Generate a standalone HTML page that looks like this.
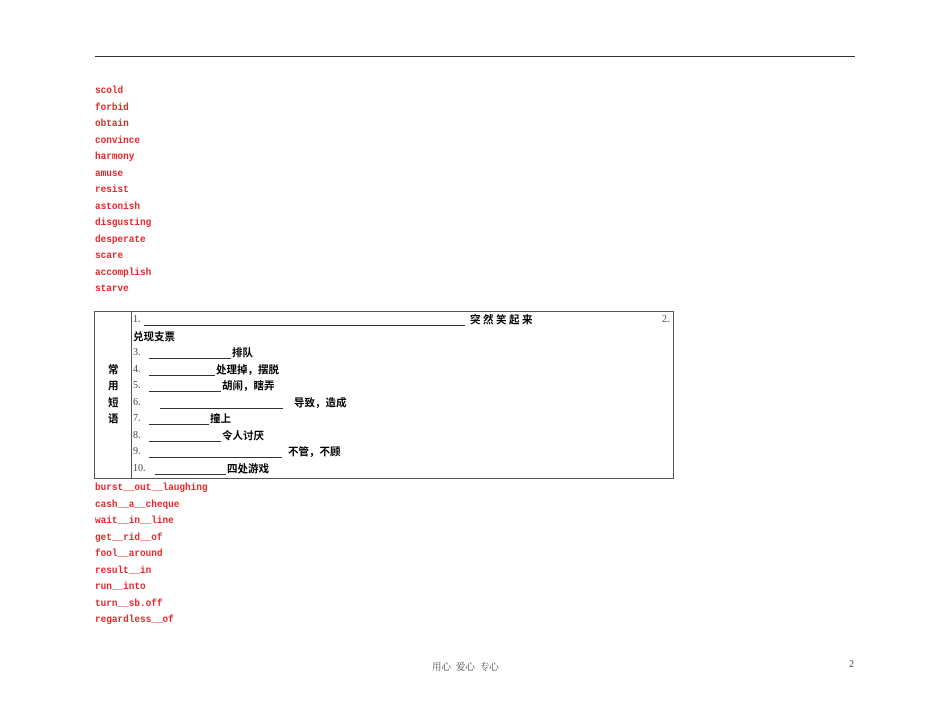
<!DOCTYPE html>
<html><head><meta charset="utf-8"><style>
body{margin:0;width:950px;height:722px;background:#fff;position:relative;overflow:hidden}
.r{position:absolute;left:95px;font-family:"Liberation Mono","Noto Sans CJK SC",monospace;font-size:9.4px;font-weight:bold;color:#e8262a;line-height:12px;white-space:pre;transform:scaleY(1.12);transform-origin:0 0}
.t{position:absolute;font-family:"Liberation Sans","Noto Sans CJK SC",sans-serif;font-size:10.5px;font-weight:bold;color:#000;line-height:12px;white-space:pre}
.n{position:absolute;font-family:"Liberation Serif",serif;font-size:10px;color:#444;line-height:12px}
.u{position:absolute;height:1px;background:#333}
</style></head><body>
<div style="position:absolute;left:95px;top:56px;width:760px;height:1px;background:#333"></div>

<div class="r" style="top:84px">scold</div>
<div class="r" style="top:101px">forbid</div>
<div class="r" style="top:117px">obtain</div>
<div class="r" style="top:134px">convince</div>
<div class="r" style="top:150px">harmony</div>
<div class="r" style="top:167px">amuse</div>
<div class="r" style="top:183px">resist</div>
<div class="r" style="top:200px">astonish</div>
<div class="r" style="top:216px">disgusting</div>
<div class="r" style="top:233px">desperate</div>
<div class="r" style="top:249px">scare</div>
<div class="r" style="top:266px">accomplish</div>
<div class="r" style="top:282px">starve</div>

<div style="position:absolute;left:94px;top:311px;width:578px;height:166px;border:1px solid #555"></div>
<div style="position:absolute;left:131px;top:311px;width:1px;height:167px;background:#555"></div>

<div class="t" style="left:108px;top:364px">常</div>
<div class="t" style="left:108px;top:380px">用</div>
<div class="t" style="left:108px;top:397px">短</div>
<div class="t" style="left:108px;top:413px">语</div>

<div class="n" style="left:133px;top:314px">1.</div>
<div class="u" style="left:144px;top:325px;width:321px"></div>
<div class="t" style="left:470px;top:314px;letter-spacing:2.5px">突然笑起来</div>
<div class="n" style="left:662px;top:314px">2.</div>
<div class="t" style="left:133px;top:331px">兑现支票</div>

<div class="n" style="left:133px;top:347px">3.</div>
<div class="u" style="left:149px;top:358px;width:82px"></div>
<div class="t" style="left:232px;top:347px">排队</div>

<div class="n" style="left:133px;top:364px">4.</div>
<div class="u" style="left:149px;top:375px;width:66px"></div>
<div class="t" style="left:216px;top:364px">处理掉，摆脱</div>

<div class="n" style="left:133px;top:380px">5.</div>
<div class="u" style="left:149px;top:391px;width:72px"></div>
<div class="t" style="left:222px;top:380px">胡闹，瞎弄</div>

<div class="n" style="left:133px;top:397px">6.</div>
<div class="u" style="left:160px;top:408px;width:123px"></div>
<div class="t" style="left:294px;top:397px">导致，造成</div>

<div class="n" style="left:133px;top:413px">7.</div>
<div class="u" style="left:149px;top:424px;width:60px"></div>
<div class="t" style="left:210px;top:413px">撞上</div>

<div class="n" style="left:133px;top:430px">8.</div>
<div class="u" style="left:149px;top:441px;width:72px"></div>
<div class="t" style="left:222px;top:430px">令人讨厌</div>

<div class="n" style="left:133px;top:446px">9.</div>
<div class="u" style="left:149px;top:457px;width:133px"></div>
<div class="t" style="left:288px;top:446px">不管，不顾</div>

<div class="n" style="left:133px;top:463px">10.</div>
<div class="u" style="left:155px;top:474px;width:71px"></div>
<div class="t" style="left:227px;top:463px">四处游戏</div>

<div class="r" style="top:481px">burst__out__laughing</div>
<div class="r" style="top:498px">cash__a__cheque</div>
<div class="r" style="top:514px">wait__in__line</div>
<div class="r" style="top:531px">get__rid__of</div>
<div class="r" style="top:547px">fool__around</div>
<div class="r" style="top:564px">result__in</div>
<div class="r" style="top:580px">run__into</div>
<div class="r" style="top:597px">turn__sb.off</div>
<div class="r" style="top:613px">regardless__of</div>

<div style="position:absolute;left:432px;top:659px;font-family:'Noto Serif CJK SC',serif;font-size:9.5px;color:#444;white-space:pre">用心  爱心  专心</div>
<div style="position:absolute;left:849px;top:659px;font-family:'Liberation Serif',serif;font-size:10px;color:#444">2</div>
</body></html>
